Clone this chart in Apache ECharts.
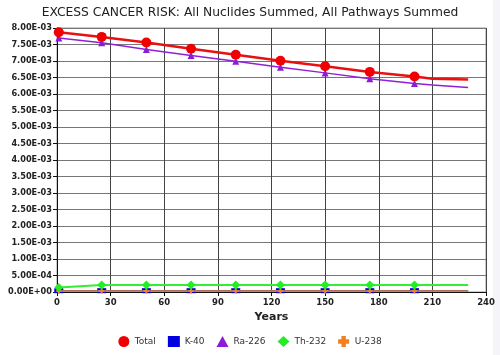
<!DOCTYPE html>
<html>
<head>
<meta charset="utf-8">
<script src="https://cdn.jsdelivr.net/npm/echarts@6/dist/echarts.min.js"></script>
<style>
html,body{margin:0;padding:0;background:#fff;}
#chart{width:500px;height:355px;}
</style>
</head>
<body>
<div id="chart"></div>
<script>
var years = [1, 25, 50, 75, 100, 125, 150, 175, 200, 210, 230];
var markerCount = 9;
var total = [7.87e-3, 7.73e-3, 7.56e-3, 7.37e-3, 7.19e-3, 7.01e-3, 6.84e-3, 6.67e-3, 6.53e-3, 6.46e-3, 6.44e-3];
var k40 = [4e-5, 4e-5, 4e-5, 4e-5, 4e-5, 4e-5, 4e-5, 4e-5, 4e-5, 4e-5, 4e-5];
var ra226 = [7.70e-3, 7.55e-3, 7.35e-3, 7.17e-3, 6.99e-3, 6.81e-3, 6.64e-3, 6.46e-3, 6.32e-3, 6.27e-3, 6.20e-3];
var th232 = [1.4e-4, 2.15e-4, 2.15e-4, 2.15e-4, 2.15e-4, 2.15e-4, 2.15e-4, 2.15e-4, 2.15e-4, 2.15e-4, 2.15e-4];
var u238 = [3e-5, 3e-5, 3e-5, 3e-5, 3e-5, 3e-5, 3e-5, 3e-5, 3e-5, 3e-5, 3e-5];
var seriesNames = ['Total', 'K-40', 'Ra-226', 'Th-232', 'U-238'];
var xTicks = [0, 30, 60, 90, 120, 150, 180, 210, 240];

var crossPath = 'path://M3,0H7V3H10V7H7V10H3V7H0V3H3Z';

function build(vals) {
  return years.map(function (y, i) {
    var d = { value: [y, vals[i]] };
    if (i >= markerCount) d.symbol = 'none';
    return d;
  });
}
function fmtExp(v) {
  var s = v.toExponential(2).toUpperCase();
  var m = s.match(/^([0-9.]+)E([+-])(\d+)$/);
  if (!m) return s;
  var e = m[3].length < 2 ? '0' + m[3] : m[3];
  return m[1] + 'E' + m[2] + e;
}

var chart = echarts.init(document.getElementById('chart'), null, { renderer: 'canvas' });
chart.setOption({
  backgroundColor: '#ffffff',
  animation: false,
  graphic: [{
    type: 'rect', shape: { x: 493, y: 0, width: 7, height: 355 },
    style: { fill: '#f5f5f9' }, z: -1
  }],
  title: {
    text: 'EXCESS CANCER RISK: All Nuclides Summed, All Pathways Summed',
    left: 'center', top: 2,
    textStyle: { fontFamily: 'DejaVu Sans', fontSize: 12.3, fontWeight: 'normal', color: '#222' }
  },
  legend: {
    bottom: 3, left: 'center',
    itemWidth: 12, itemHeight: 11, itemGap: 12,
    textStyle: { fontFamily: 'DejaVu Sans', fontSize: 9, color: '#333' },
    data: [
      { name: 'Total', icon: 'circle' },
      { name: 'K-40', icon: 'rect' },
      { name: 'Ra-226', icon: 'triangle' },
      { name: 'Th-232', icon: 'diamond' },
      { name: 'U-238', icon: crossPath }
    ]
  },
  grid: {
    left: 57, right: 14, top: 28, bottom: 63,
    show: true, borderColor: '#999', borderWidth: 1, backgroundColor: '#fff'
  },
  xAxis: {
    type: 'value', min: xTicks[0], max: xTicks[xTicks.length - 1], interval: 30,
    name: 'Years', nameLocation: 'middle', nameGap: 20,
    nameTextStyle: { fontFamily: 'DejaVu Sans', fontSize: 11, fontWeight: 'bold', color: '#222' },
    axisLine: { lineStyle: { color: '#111', width: 1 } },
    axisTick: { show: true, length: 4, lineStyle: { color: '#111' } },
    axisLabel: { fontFamily: 'DejaVu Sans', fontSize: 8.5, fontWeight: 'bold', color: '#222', margin: 6 },
    splitLine: { show: true, lineStyle: { color: '#444', width: 1 } }
  },
  yAxis: {
    type: 'value', min: 0, max: 0.008, interval: 0.0005,
    axisLine: { show: true, lineStyle: { color: '#111', width: 1 } },
    axisTick: { show: true, length: 4, lineStyle: { color: '#111' } },
    axisLabel: { fontFamily: 'DejaVu Sans', fontSize: 8.2, fontWeight: 'bold', color: '#222', margin: 5, formatter: fmtExp },
    splitLine: { show: true, lineStyle: { color: '#777', width: 1 } }
  },
  series: [
    { name: 'Total', type: 'line', data: build(total), symbol: 'circle', symbolSize: 10, z: 6,
      itemStyle: { color: '#f00000' }, lineStyle: { color: '#e81010', width: 2.5 } },
    { name: 'K-40', type: 'line', data: build(k40), symbol: 'rect', symbolSize: [9, 5], z: 2,
      itemStyle: { color: '#0000e0' }, lineStyle: { color: '#0000e0', width: 1.5 } },
    { name: 'Ra-226', type: 'line', data: build(ra226), symbol: 'triangle', symbolSize: 7, z: 4,
      itemStyle: { color: '#8d1ad6' }, lineStyle: { color: '#9020d8', width: 1.5 } },
    { name: 'Th-232', type: 'line', data: build(th232), symbol: 'diamond', symbolSize: 9, z: 5,
      itemStyle: { color: '#22ee22' }, lineStyle: { color: '#33ee33', width: 2 } },
    { name: 'U-238', type: 'line', data: build(u238), symbol: crossPath, symbolSize: [5, 5], z: 3,
      itemStyle: { color: '#f08020' }, lineStyle: { color: '#e89030', width: 1.5 } }
  ]
});
</script>
</body>
</html>
